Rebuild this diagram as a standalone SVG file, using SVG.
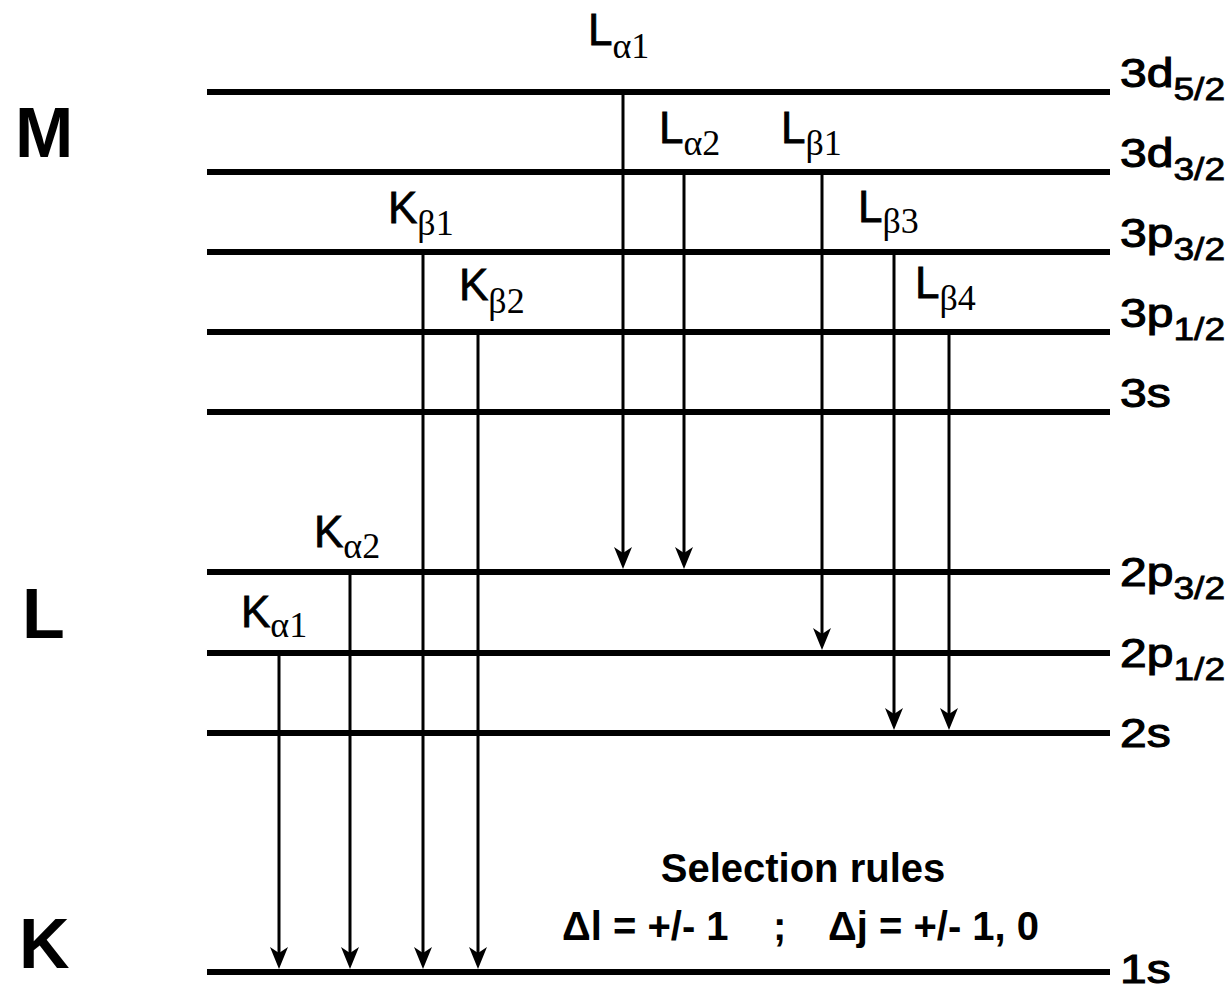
<svg xmlns="http://www.w3.org/2000/svg" width="1230" height="989" viewBox="0 0 1230 989">
<defs>
<style>
.lvl{stroke:#000;stroke-width:6;fill:none}
.arr{stroke:#000;stroke-width:3;fill:none;marker-end:url(#ah)}
.shell{font-family:"Liberation Sans",Arial,sans-serif;font-weight:bold;font-size:70px;fill:#000}
.st{font-family:"Liberation Sans",Arial,sans-serif;font-weight:normal;font-size:40px;fill:#000;stroke:#000;stroke-width:1.1}
.sts{font-family:"Liberation Sans",Arial,sans-serif;font-weight:normal;font-size:31px;stroke-width:0.8}
.tr{font-family:"Liberation Sans",Arial,sans-serif;font-weight:normal;font-size:44px;fill:#000;stroke:#000;stroke-width:0.8}
.trs{font-family:"Liberation Serif","Times New Roman",serif;font-weight:normal;font-size:36px;stroke:none}
.rule{font-family:"Liberation Sans",Arial,sans-serif;font-weight:bold;font-size:40px;fill:#000}
</style>
<marker id="ah" markerUnits="userSpaceOnUse" viewBox="0 0 22 18" refX="12" refY="9" markerWidth="22" markerHeight="18" orient="auto">
<path d="M0,0 L22,9 L0,18 L6,9 Z" fill="#000"/>
</marker>
</defs>
<rect width="1230" height="989" fill="#fff"/>

<g id="shells">
<text class="shell" x="15" y="157">M</text>
<text class="shell" x="22" y="638">L</text>
<text class="shell" x="19" y="968">K</text>
</g>

<g id="level-3d52"><line class="lvl" x1="207" y1="92" x2="1110" y2="92"/><text class="st" transform="translate(1120,87) scale(1.2,1)">3d<tspan class="sts" dy="13">5/2</tspan></text></g>
<g id="level-3d32"><line class="lvl" x1="207" y1="172" x2="1110" y2="172"/><text class="st" transform="translate(1120,167) scale(1.2,1)">3d<tspan class="sts" dy="13">3/2</tspan></text></g>
<g id="level-3p32"><line class="lvl" x1="207" y1="252" x2="1110" y2="252"/><text class="st" transform="translate(1120,247) scale(1.2,1)">3p<tspan class="sts" dy="13">3/2</tspan></text></g>
<g id="level-3p12"><line class="lvl" x1="207" y1="332" x2="1110" y2="332"/><text class="st" transform="translate(1120,327) scale(1.2,1)">3p<tspan class="sts" dy="13">1/2</tspan></text></g>
<g id="level-3s"><line class="lvl" x1="207" y1="412" x2="1110" y2="412"/><text class="st" transform="translate(1120,407) scale(1.2,1)">3s</text></g>
<g id="level-2p32"><line class="lvl" x1="207" y1="572" x2="1110" y2="572"/><text class="st" transform="translate(1120,586) scale(1.2,1)">2p<tspan class="sts" dy="13">3/2</tspan></text></g>
<g id="level-2p12"><line class="lvl" x1="207" y1="653" x2="1110" y2="653"/><text class="st" transform="translate(1120,667) scale(1.2,1)">2p<tspan class="sts" dy="13">1/2</tspan></text></g>
<g id="level-2s"><line class="lvl" x1="207" y1="733" x2="1110" y2="733"/><text class="st" transform="translate(1120,747) scale(1.2,1)">2s</text></g>
<g id="level-1s"><line class="lvl" x1="207" y1="972" x2="1110" y2="972"/><text class="st" transform="translate(1120,983) scale(1.2,1)">1s</text></g>

<g id="connectors">
<line class="arr" x1="623" y1="92" x2="623" y2="559"/>
<line class="arr" x1="684" y1="172" x2="684" y2="559"/>
<line class="arr" x1="822" y1="172" x2="822" y2="640"/>
<line class="arr" x1="894" y1="252" x2="894" y2="720"/>
<line class="arr" x1="949" y1="332" x2="949" y2="720"/>
<line class="arr" x1="423" y1="252" x2="423" y2="959"/>
<line class="arr" x1="478" y1="332" x2="478" y2="959"/>
<line class="arr" x1="350" y1="572" x2="350" y2="959"/>
<line class="arr" x1="279" y1="653" x2="279" y2="959"/>
</g>

<g id="transition-labels">
<text class="tr" x="588" y="45">L<tspan class="trs" dy="13">α1</tspan></text>
<text class="tr" x="659" y="143">L<tspan class="trs" dy="12">α2</tspan></text>
<text class="tr" x="781" y="143">L<tspan class="trs" dy="12">β1</tspan></text>
<text class="tr" x="388" y="223">K<tspan class="trs" dy="12">β1</tspan></text>
<text class="tr" x="459" y="300">K<tspan class="trs" dy="13">β2</tspan></text>
<text class="tr" x="858" y="222">L<tspan class="trs" dy="11">β3</tspan></text>
<text class="tr" x="915" y="298">L<tspan class="trs" dy="12">β4</tspan></text>
<text class="tr" x="314" y="547">K<tspan class="trs" dy="11">α2</tspan></text>
<text class="tr" x="241" y="627">K<tspan class="trs" dy="10">α1</tspan></text>
</g>

<g id="selection-rules">
<text class="rule" x="803" y="882" text-anchor="middle">Selection rules</text>
<text class="rule" x="562" y="940">Δl = +/- 1</text>
<text class="rule" x="773" y="940">;</text>
<text class="rule" x="828" y="940">Δj = +/- 1, 0</text>
</g>
</svg>
